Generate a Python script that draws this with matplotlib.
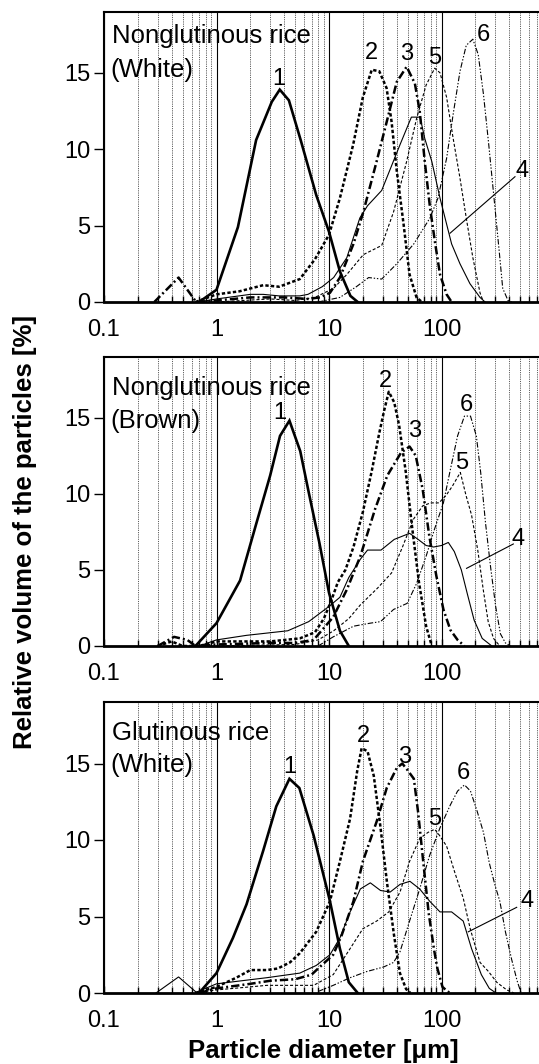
import matplotlib
matplotlib.use("Agg")
import matplotlib.pyplot as plt
from matplotlib.ticker import LogLocator, FixedLocator, NullFormatter, FixedFormatter

plt.rcParams['font.family'] = ['Liberation Sans', 'DejaVu Sans']
plt.rcParams['lines.scale_dashes'] = False

# ---------------- data ----------------
panel_titles = [("Nonglutinous rice", "(White)"),
                ("Nonglutinous rice", "(Brown)"),
                ("Glutinous rice", "(White)")]
x_tick_values = [0.1, 1, 10, 100]
x_tick_labels = ["0.1", "1", "10", "100"]
y_tick_values = [0, 5, 10, 15]
curve_names = ["1", "2", "3", "4", "5", "6"]

# Panel 1: Nonglutinous rice (White)
p1_c1_d = [0.7, 1.0, 1.55, 2.25, 3.1, 3.65, 4.4, 5.6, 7.7, 10, 12.5, 15.5, 18]
p1_c1_v = [0, 0.8, 4.9, 10.6, 13.1, 13.9, 13.2, 10.6, 7.0, 4.6, 2.0, 0.4, 0]
p1_c2_d = [0.65, 1.0, 1.6, 2.6, 3.6, 5.5, 7.5, 10, 12.5, 16.4, 20, 24, 28, 32.5, 36, 40, 46, 52, 60, 67]
p1_c2_v = [0, 0.5, 0.7, 1.1, 1.0, 1.5, 2.8, 4.4, 6.8, 10.3, 13.4, 15.2, 15.1, 14.0, 11.8, 8.6, 5.1, 1.8, 0.3, 0]
p1_c3_d = [0.28, 0.46, 0.66, 1.0, 2.0, 4.0, 6.5, 8.3, 10.2, 12.5, 16.5, 20.2, 26.5, 32.6, 40, 49, 58, 64, 71, 79, 88, 97, 111, 123]
p1_c3_v = [0, 1.6, 0, 0.1, 0.3, 0.3, 0.2, 0.3, 0.6, 1.6, 3.8, 5.9, 9.2, 11.8, 14.4, 15.4, 14.3, 12.5, 9.2, 6.2, 3.8, 1.8, 0.5, 0]
p1_c4_d = [0.7, 1.0, 2.0, 2.6, 3.6, 5.5, 6.5, 8.7, 11, 14.4, 18.8, 22, 29.4, 42.8, 54, 64.5, 71, 82, 97, 111, 123, 146, 179, 220, 244]
p1_c4_v = [0, 0.2, 0.5, 0.5, 0.4, 0.4, 0.5, 1.0, 1.6, 2.9, 5.5, 6.3, 7.3, 10.3, 12.1, 12.1, 10.7, 9.2, 6.8, 5.1, 3.8, 2.5, 1.2, 0.3, 0]
p1_c5_d = [1.0, 3.0, 5, 7.5, 11, 14.4, 20.2, 29.4, 37.5, 49, 60, 73, 87, 97, 111, 127, 146, 166, 190, 220, 236]
p1_c5_v = [0, 0.2, 0.1, 0.3, 0.9, 1.8, 3.1, 3.7, 5.9, 9.2, 12.0, 14.2, 15.3, 15.0, 13.4, 10.7, 8.1, 5.5, 2.9, 0.6, 0]
p1_c6_d = [8, 12.5, 17.5, 22.5, 29.4, 40, 56.7, 79, 93, 111, 127, 146, 166, 190, 212, 236, 263, 293, 326, 350, 390, 420]
p1_c6_v = [0, 0.3, 1.0, 1.6, 1.5, 2.5, 3.8, 5.5, 6.8, 9.4, 12.3, 15.1, 16.8, 17.2, 16.2, 13.6, 10.3, 6.8, 3.3, 0.9, 0.1, 0]

# Panel 2: Nonglutinous rice (Brown)
p2_c1_d = [0.65, 1.0, 1.62, 2.27, 3.0, 3.67, 4.45, 5.55, 6.6, 8.2, 10, 12.5, 15]
p2_c1_v = [0, 1.5, 4.3, 8.1, 11.2, 13.8, 14.8, 12.8, 10.1, 6.8, 3.5, 1.0, 0]
p2_c2_d = [0.3, 0.4, 0.5, 0.7, 1, 3, 5.5, 7.5, 9, 10.5, 12, 14, 16.5, 20, 24, 28, 31, 34, 38, 42, 48, 55, 63, 73, 82]
p2_c2_v = [0, 0.3, 0, 0, 0.3, 0.3, 0.5, 0.9, 1.8, 3.0, 4.2, 5.0, 6.5, 8.8, 11.5, 14.0, 15.5, 16.7, 16.0, 14.5, 11.5, 7.7, 4.2, 1.3, 0]
p2_c3_d = [0.3, 0.42, 0.55, 0.65, 1, 3, 5, 7.3, 10.9, 14.4, 19, 25.7, 33, 43.7, 52, 59, 68, 78, 90, 104, 120, 139, 160]
p2_c3_v = [0, 0.6, 0.4, 0, 0.1, 0.2, 0.2, 0.4, 1.9, 3.7, 5.9, 9.0, 11.2, 12.7, 13.1, 12.5, 10.3, 7.2, 4.6, 2.4, 1.05, 0.4, 0]
p2_c4_d = [0.7, 1, 1.85, 4.3, 6.6, 10, 12.5, 15, 19, 22, 29, 38, 52, 62, 73, 85, 100, 115, 130, 150, 170, 195, 230, 280]
p2_c4_v = [0, 0.4, 0.7, 1.0, 1.6, 2.6, 3.2, 4.5, 5.7, 6.3, 6.3, 7.0, 7.4, 7.0, 6.6, 6.5, 6.6, 6.8, 6.2, 5.0, 3.4, 1.7, 0.5, 0]
p2_c5_d = [1, 5, 8, 11, 15, 19, 27, 36, 45, 56, 68, 80, 95, 110, 125, 147, 165, 185, 210, 235, 260, 290, 330]
p2_c5_v = [0, 0.1, 0.4, 1.0, 1.8, 2.7, 3.8, 4.8, 6.5, 8.3, 9.2, 9.4, 9.4, 9.9, 10.5, 11.4, 9.9, 8.6, 6.3, 3.7, 1.6, 0.5, 0]
p2_c6_d = [8, 10.9, 16.5, 23.3, 28.7, 37.5, 49.5, 60, 73, 86, 104, 120, 139, 160, 181, 204, 223, 246, 273, 303, 334, 370, 410]
p2_c6_v = [0, 0.6, 1.3, 1.5, 1.6, 2.4, 2.8, 4.1, 5.9, 7.6, 9.4, 11.6, 13.8, 15.1, 15.1, 13.8, 11.4, 8.1, 5.2, 2.6, 0.8, 0.2, 0]

# Panel 3: Glutinous rice (White)
p3_c1_d = [0.7, 1.0, 1.4, 1.85, 2.6, 3.4, 4.45, 5.45, 7.3, 10.2, 12.5, 15, 18]
p3_c1_v = [0, 1.3, 3.6, 5.8, 9.3, 12.2, 14.0, 13.4, 10.3, 6.0, 2.9, 0.7, 0]
p3_c2_d = [0.65, 1.0, 1.5, 2.0, 2.8, 3.5, 4.5, 5.5, 7.7, 10.2, 12.5, 15.4, 17.8, 19.5, 22, 25, 28.5, 32.8, 37.8, 42.7, 48.5, 53]
p3_c2_v = [0, 0.4, 1.0, 1.5, 1.5, 1.6, 2.0, 2.6, 4.0, 6.0, 8.6, 11.4, 14.5, 16.0, 15.8, 14.2, 11.0, 7.2, 3.8, 1.3, 0.25, 0]
p3_c3_d = [0.7, 1.0, 2.0, 3.0, 5.0, 7.0, 8, 10.9, 13, 16.5, 20, 26.5, 32.6, 40, 44.8, 49.5, 56.8, 62, 69, 77, 86, 92, 102, 113, 120]
p3_c3_v = [0, 0.3, 0.6, 0.8, 0.9, 1.2, 1.6, 2.5, 3.8, 6.0, 8.6, 11.2, 13.4, 14.7, 15.0, 14.6, 14.0, 11.8, 8.5, 5.2, 2.8, 1.6, 0.4, 0.1, 0]
p3_c4_d = [0.29, 0.46, 0.66, 1.0, 2.8, 5.5, 7.7, 10.2, 12.5, 15.4, 19, 23.3, 28.7, 35, 42.8, 52.4, 64, 78.5, 97, 123, 156, 185, 226, 266, 305]
p3_c4_v = [0, 1.05, 0.05, 0.6, 1.0, 1.3, 1.8, 2.5, 3.6, 5.3, 6.8, 7.2, 6.7, 6.6, 7.1, 7.3, 6.8, 6.0, 5.3, 5.3, 4.7, 2.9, 1.2, 0.3, 0]
p3_c5_d = [0.65, 1, 2.8, 7.3, 10.9, 15.4, 20, 26.5, 34, 42.8, 52, 64, 76, 87, 96, 111, 131, 156, 180, 220, 262, 310, 380, 440]
p3_c5_v = [0, 0.2, 0.5, 0.5, 1.2, 2.9, 4.2, 4.7, 5.3, 6.6, 8.6, 10.1, 10.5, 10.7, 10.3, 9.6, 7.9, 6.2, 4.2, 2.0, 1.4, 0.7, 0.2, 0]
p3_c6_d = [8, 10.9, 15.4, 21.6, 30.6, 37.5, 42.8, 52, 64, 78.5, 97, 120, 139, 160, 181, 207, 236, 266, 300, 330, 370, 420, 470, 510]
p3_c6_v = [0.1, 0.5, 1.0, 1.4, 1.7, 2.0, 2.7, 4.7, 6.8, 9.0, 10.8, 12.3, 13.2, 13.6, 13.2, 11.9, 10.5, 8.5, 7.0, 6.0, 4.0, 2.2, 0.8, 0]

panels = [
    [(p1_c1_d, p1_c1_v), (p1_c2_d, p1_c2_v), (p1_c3_d, p1_c3_v),
     (p1_c4_d, p1_c4_v), (p1_c5_d, p1_c5_v), (p1_c6_d, p1_c6_v)],
    [(p2_c1_d, p2_c1_v), (p2_c2_d, p2_c2_v), (p2_c3_d, p2_c3_v),
     (p2_c4_d, p2_c4_v), (p2_c5_d, p2_c5_v), (p2_c6_d, p2_c6_v)],
    [(p3_c1_d, p3_c1_v), (p3_c2_d, p3_c2_v), (p3_c3_d, p3_c3_v),
     (p3_c4_d, p3_c4_v), (p3_c5_d, p3_c5_v), (p3_c6_d, p3_c6_v)],
]

# ---------------- styles / layout ----------------
styles = [
    dict(lw=1.9, ls='-'),
    dict(lw=1.8, ls=(0, (2.4, 1.6))),
    dict(lw=1.8, ls=(0, (6, 2.2, 1.4, 2.2))),
    dict(lw=0.8, ls='-'),
    dict(lw=0.8, ls=(0, (2.2, 1.4))),
    dict(lw=0.8, ls=(0, (4, 1.3, 1, 1.3, 1, 1.3))),
]

label_pos = [
    {"1": (3.6, 14.6), "2": (24, 16.3), "3": (49, 16.2), "5": (87.5, 16.0), "6": (236, 17.5), "4": (515, 8.6)},
    {"1": (3.66, 15.3), "2": (32, 17.4), "3": (58, 14.1), "5": (151, 12.0), "6": (165, 15.8), "4": (482, 7.0)},
    {"1": (4.5, 14.8), "2": (20.2, 16.8), "3": (47.4, 15.4), "5": (87.5, 11.4), "6": (156, 14.4), "4": (571, 6.0)},
]
leaders = [((119, 4.5), (450, 8.2)), ((167, 5.1), (435, 6.7)), ((173, 4.0), (466, 5.6))]
title_offsets = [(31.6, 65.0), (38.3, 71.6), (37.7, 70.0)]  # px below top

W, H = 539, 1064
fig = plt.figure(figsize=(W / 100, H / 100), dpi=100)
ax_left_px = 104
ax_width_px = 450
ax_boxes = [(11.7, 302), (356.7, 646), (702.3, 993)]

for i, (top, bot) in enumerate(ax_boxes):
    ax = fig.add_axes([ax_left_px / W, 1 - bot / H, ax_width_px / W, (bot - top) / H])
    ax.set_xscale('log')
    ax.set_xlim(0.1, 1000)
    ax.set_ylim(0, 19)
    hpx = bot - top

    for (d, v), st in zip(panels[i], styles):
        ax.plot(d, v, color='black', solid_joinstyle='miter', zorder=3, **st)

    ax.xaxis.set_major_locator(FixedLocator(x_tick_values + [1000]))
    ax.xaxis.set_major_formatter(FixedFormatter(x_tick_labels + [""]))
    ax.xaxis.set_minor_locator(LogLocator(base=10, subs=[2, 3, 4, 5, 6, 7, 8, 9], numticks=20))
    ax.xaxis.set_minor_formatter(NullFormatter())
    ax.grid(which='major', axis='x', color='black', lw=0.8, ls='-', zorder=1)
    ax.grid(which='minor', axis='x', color='0.35', lw=0.7, ls=(0, (0.8, 0.8)), zorder=1)
    ax.grid(which='both', axis='y', visible=False)

    ax.set_yticks(y_tick_values)
    ax.tick_params(axis='x', which='major', direction='in', length=5, width=1.0, pad=12, labelsize=17)
    ax.tick_params(axis='x', which='minor', direction='in', length=4, width=1.0)
    ax.tick_params(axis='y', which='major', direction='out', length=7, width=1.0, pad=3, labelsize=17)
    for s in ['top', 'left', 'right']:
        ax.spines[s].set_linewidth(1.5)
    ax.spines['bottom'].set_linewidth(2.0)

    t1, t2 = panel_titles[i]
    o1, o2 = title_offsets[i]
    ax.text(8 / ax_width_px, 1 - o1 / hpx, t1, transform=ax.transAxes, fontsize=18.5,
            ha='left', va='baseline', zorder=5)
    ax.text(6 / ax_width_px, 1 - o2 / hpx, t2, transform=ax.transAxes, fontsize=18.5,
            ha='left', va='baseline', zorder=5)

    for name in curve_names:
        x, y = label_pos[i][name]
        ax.text(x, y, name, fontsize=17, ha='center', va='center', zorder=5)
    (x0, y0), (x1, y1) = leaders[i]
    ax.plot([x0, x1], [y0, y1], color='black', lw=0.8, zorder=4)

fig.text(323 / W, 1 - 1051 / H, "Particle diameter [μm]", fontsize=18.5, fontweight='bold',
         ha='center', va='center')
fig.text(25 / W, 1 - 532 / H, "Relative volume of the particles [%]", fontsize=18.5,
         fontweight='bold', rotation=90, ha='center', va='center')

fig.savefig("out.png", dpi=100)
